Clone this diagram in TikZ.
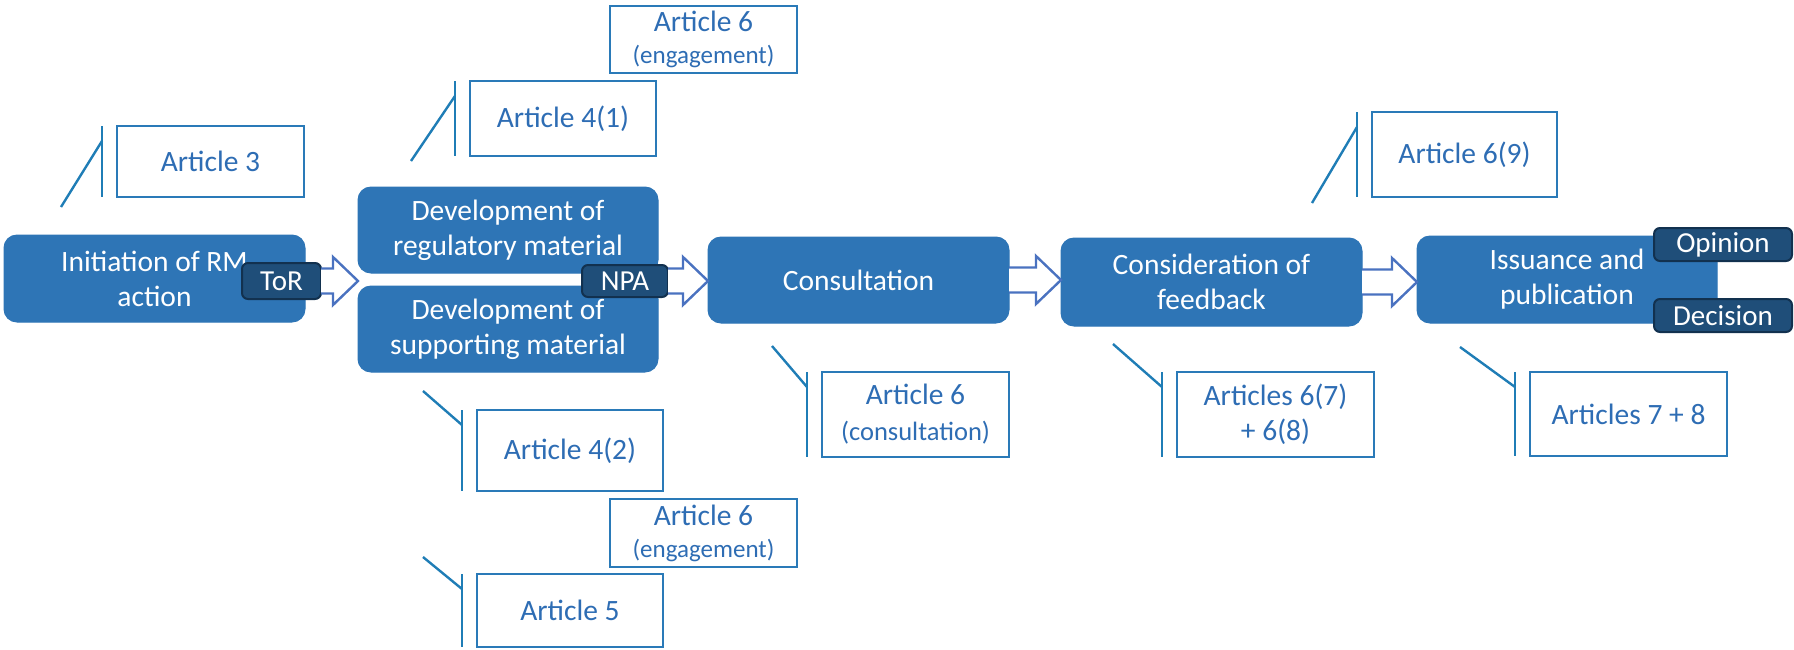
\documentclass[tikz,border=0pt]{standalone}
\usepackage{fontspec}
\setmainfont{Carlito}
\usetikzlibrary{calc}
\definecolor{mainblue}{HTML}{2E75B6}
\definecolor{tagfill}{HTML}{1F4E79}
\definecolor{tagdraw}{HTML}{12314F}
\definecolor{artdraw}{HTML}{2A7AB8}
\definecolor{arttext}{HTML}{2E6DB4}
\definecolor{barcol}{HTML}{1F7DB6}
\definecolor{arrcol}{HTML}{4A72C0}
\tikzset{
  mainbox/.style={fill=mainblue, draw=mainblue, line width=1pt, rounded corners=13pt, text=white,
    align=center, inner sep=0pt, outer sep=0pt, font=\fontsize{29.5}{35}\selectfont},
  tagbox/.style={fill=tagfill, draw=tagdraw, line width=2pt, rounded corners=6pt, text=white,
    align=center, inner sep=0pt, outer sep=0pt, font=\fontsize{29}{33}\selectfont},
  artbox/.style={fill=white, draw=artdraw, line width=2.6pt, text=arttext,
    align=center, inner sep=0pt, outer sep=0pt, font=\fontsize{29.5}{35}\selectfont},
  barline/.style={draw=barcol, line width=2.4pt},
  blockarr/.style={draw=arrcol, line width=2.4pt, fill=white, line join=miter},
}
\newcommand{\smallpar}[2]{{\fontsize{#1}{28}\selectfont #2}}
\newcommand{\callout}[2]{%
  \draw[barline] ([xshift=-15pt]#1.north west) -- ([xshift=-15pt]#1.south west);
  \draw[barline] ([xshift=-15pt,yshift=-15pt]#1.north west) -- (#2);
}
\newcommand{\blockarrow}[2]{%
  \draw[blockarr] ($(#1)+(0,-12.5)$) -- ($(#2)+(-25,-12.5)$) -- ($(#2)+(-25,-24)$) -- (#2)
    -- ($(#2)+(-25,24)$) -- ($(#2)+(-25,12.5)$) -- ($(#1)+(0,12.5)$);
}
\begin{document}
\begin{tikzpicture}[x=1pt,y=-1pt]
\useasboundingbox (0,0) rectangle (1794,649);
% main process boxes
\node[mainbox, minimum width=301pt, minimum height=87pt] (init) at (154.5,278.5) {Initiation of RM\\action};
\node[mainbox, minimum width=300pt, minimum height=86pt] (devreg) at (508,230) {Development of\\regulatory material};
\node[mainbox, minimum width=300pt, minimum height=86pt] (devsup) at (508,329) {Development of\\supporting material};
\node[mainbox, minimum width=301pt, minimum height=86pt] (consult) at (858.5,280) {Consultation};
\node[mainbox, minimum width=301pt, minimum height=88pt] (consid) at (1211.5,282) {Consideration of\\feedback};
\node[mainbox, minimum width=300pt, minimum height=87pt] (issue) at (1567,279.5) {Issuance and\\publication};
% tags
\node[tagbox, minimum width=79pt, minimum height=36pt] (tor) at (281.5,281) {ToR};
\node[tagbox, minimum width=86pt, minimum height=32pt] (npa) at (625,281) {NPA};
\node[tagbox, minimum width=138pt, minimum height=33pt] (opinion) at (1723,244.5) {Opinion};
\node[tagbox, minimum width=138pt, minimum height=33pt] (decision) at (1723,315.5) {Decision};
% block arrows
\coordinate (t1) at (devreg.west |- tor.east);
\coordinate (t2) at (consult.west |- npa.east);
\coordinate (t3) at (consid.west |- consult.east);
\coordinate (t4) at (issue.west |- consid.east);
\blockarrow{tor.east}{t1}
\blockarrow{npa.east}{t2}
\blockarrow{consult.east}{t3}
\blockarrow{consid.east}{t4}
% article boxes
\node[artbox, minimum width=187pt, minimum height=71pt] (a3) at (210.5,161.5) {Article 3};
\node[artbox, minimum width=186pt, minimum height=75pt] (a41) at (563,118.5) {Article 4(1)};
\node[artbox, minimum width=187pt, minimum height=67pt] (a6t) at (703.5,39.5) {Article 6\\[-3pt]\smallpar{25}{(engagement)}};
\node[artbox, minimum width=186pt, minimum height=81pt] (a42) at (570,450.5) {Article 4(2)};
\node[artbox, minimum width=187pt, minimum height=68pt] (a6b) at (703.5,533) {Article 6\\[-3pt]\smallpar{25}{(engagement)}};
\node[artbox, minimum width=186pt, minimum height=73pt] (a5) at (570,610.5) {Article 5};
\node[artbox, minimum width=187pt, minimum height=85pt] (a6c) at (915.5,414.5) {Article 6\\[1pt]\smallpar{26.5}{(consultation)}};
\node[artbox, minimum width=197pt, minimum height=85pt] (a678) at (1275.5,414.5) {Articles 6(7)\\+ 6(8)};
\node[artbox, minimum width=185pt, minimum height=85pt] (a69) at (1464.5,154.5) {Article 6(9)};
\node[artbox, minimum width=197pt, minimum height=84pt] (a78) at (1628.5,414) {Articles 7 + 8};
% callout free ends
\coordinate (e3) at (61,207);
\coordinate (e41) at (411,161);
\coordinate (e42) at (423,391);
\coordinate (e5) at (423,557);
\coordinate (e6c) at (772,346);
\coordinate (e678) at (1113,344);
\coordinate (e69) at (1312,203);
\coordinate (e78) at (1460,347);
\callout{a3}{e3}
\callout{a41}{e41}
\callout{a42}{e42}
\callout{a5}{e5}
\callout{a6c}{e6c}
\callout{a678}{e678}
\callout{a69}{e69}
\callout{a78}{e78}
\end{tikzpicture}
\end{document}
